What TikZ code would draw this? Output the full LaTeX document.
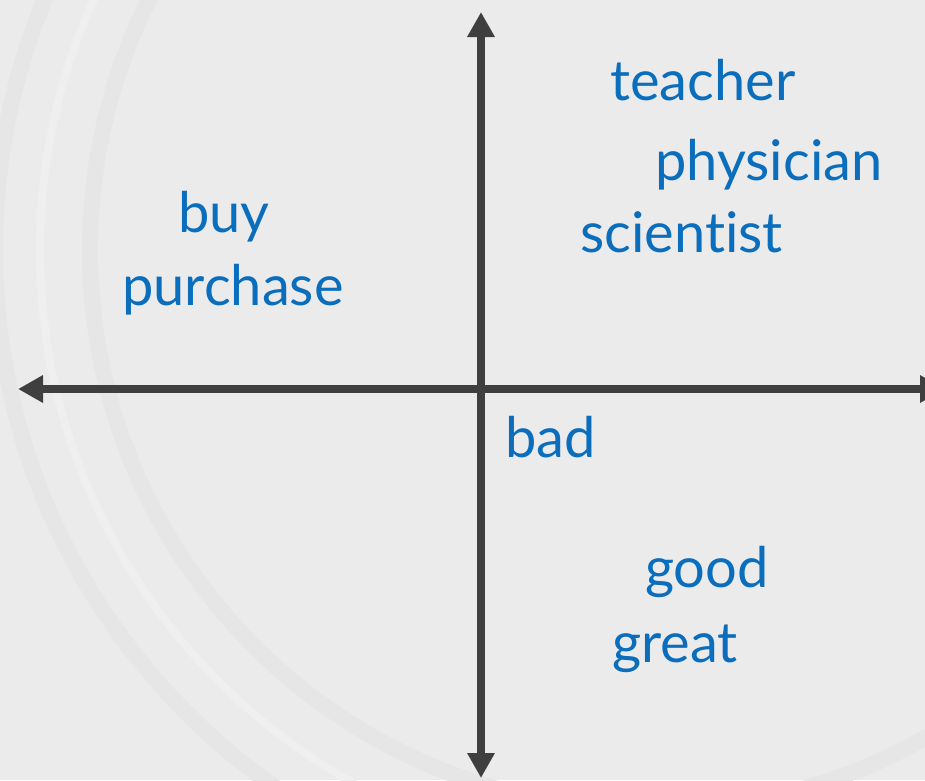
\documentclass[tikz,border=0pt]{standalone}
\usepackage{fontspec}
\setmainfont{Lato}[Ligatures=NoCommon]
\usetikzlibrary{arrows.meta}
\definecolor{bgfill}{HTML}{ECEBEC}
\definecolor{sealmark}{HTML}{E7E6E7}
\definecolor{sealhi}{HTML}{F0EFF0}
\definecolor{axisgray}{HTML}{3F3F3F}
\definecolor{wordblue}{HTML}{0A6EBD}
\tikzset{
  axisline/.style={draw=axisgray, line width=8pt,
    {Triangle[length=25pt,width=26pt]}-{Triangle[length=25pt,width=26pt]}},
  word/.style={anchor=base west, inner sep=0pt, text=wordblue,
    font=\fontsize{56}{66}\selectfont},
  ring/.style={draw=sealmark, line width=16pt},
  ringhi/.style={draw=sealhi, line width=8pt}
}
\begin{document}
\begin{tikzpicture}[x=1pt,y=-1pt]
  % canvas and faint seal rings in the background
  \fill[bgfill] (0,0) rectangle (925,780);
  \useasboundingbox (0,0) rectangle (925,780);
  \begin{scope}
    \clip (0,0) rectangle (925,780);
    \draw[ring] (650,250) circle (655);
    \draw[ringhi] (650,250) circle (610);
    \draw[ring] (650,250) circle (560);
  \end{scope}

  % axes
  \coordinate (top) at (481,12);
  \coordinate (bottom) at (481,778);
  \coordinate (left) at (18,389);
  \coordinate (right) at (945,389);
  \draw[axisline] (bottom) -- (top);
  \draw[axisline] (left) -- (right);

  % words
  \node[word] (teacher) at (610,100) {teacher};
  \node[word] (physician) at (655,180) {physician};
  \node[word] (scientist) at (580,252) {scientist};
  \node[word] (buy) at (178,232) {buy};
  \node[word] (purchase) at (122,305) {purchase};
  \node[word] (bad) at (505,457) {bad};
  \node[word] (good) at (645,587) {good};
  \node[word] (great) at (612,662) {great};
\end{tikzpicture}
\end{document}
